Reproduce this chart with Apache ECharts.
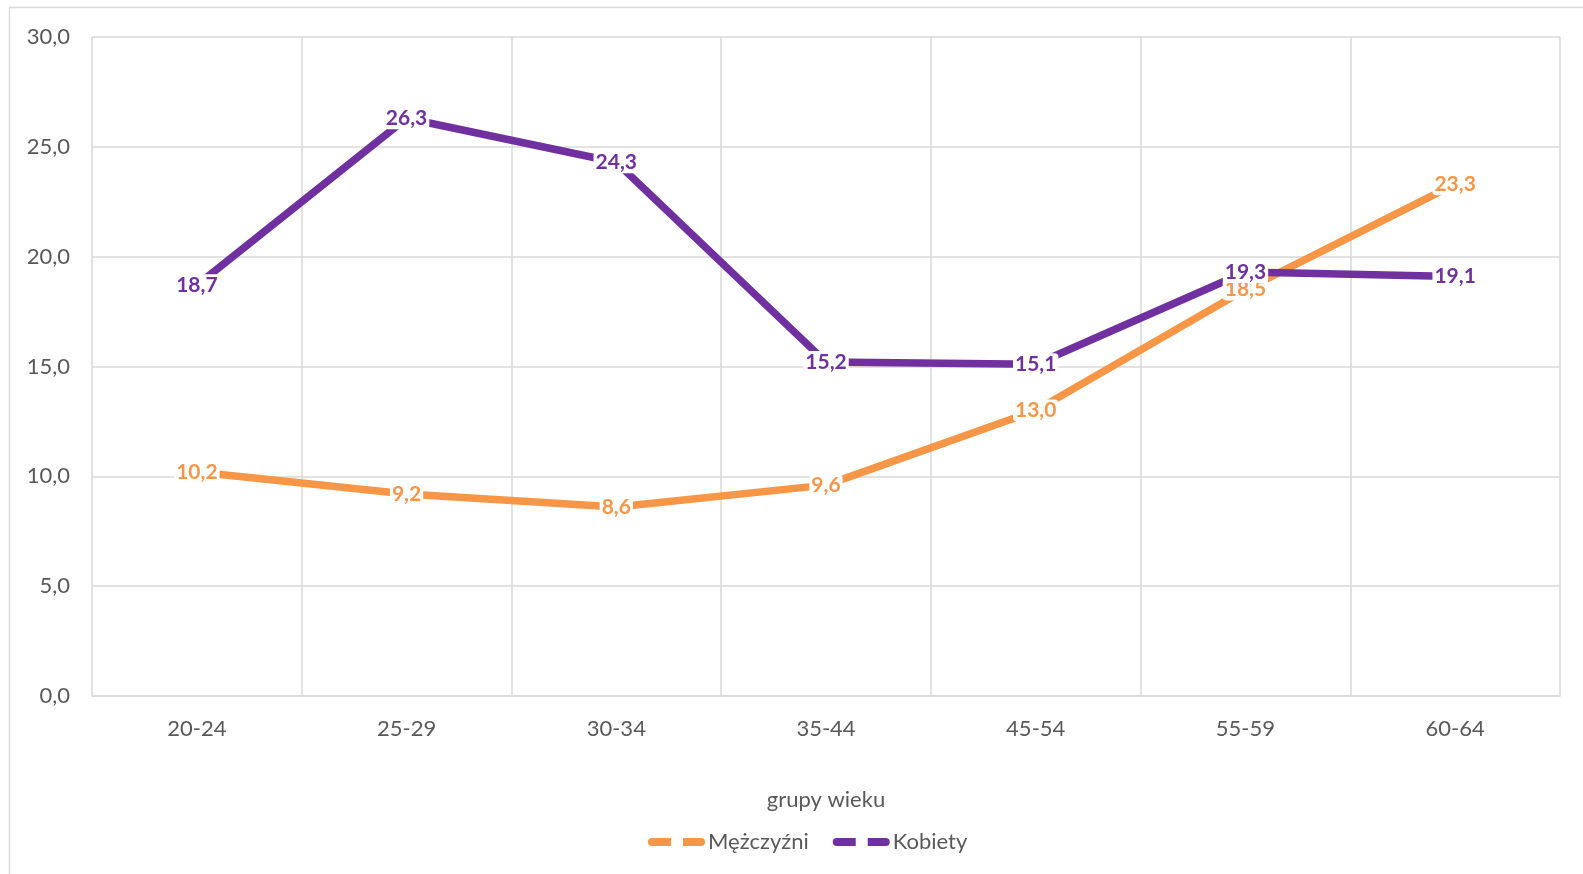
<!DOCTYPE html>
<html>
<head>
<meta charset="utf-8">
<script src="https://cdn.jsdelivr.net/npm/echarts@6/dist/echarts.min.js"></script>
<style>
  html, body { margin: 0; padding: 0; background: #fff; }
  #chart { width: 1583px; height: 874px; }
</style>
</head>
<body>
<div id="chart"></div>
<script>
// grupy wieku
const categories = ['20-24', '25-29', '30-34', '35-44', '45-54', '55-59', '60-64']
// wartości
const menValues = [10.2, 9.2, 8.6, 9.6, 13.0, 18.5, 23.3]
const womenValues = [18.7, 26.3, 24.3, 15.2, 15.1, 19.3, 19.1]
const yTicks = { min: 0, max: 30, interval: 5 }

const FONT = 'Lato'
const GRAY_TEXT = '#595959'
const GRID_COLOR = '#D9D9D9'

const fmt = v => Number(v).toFixed(1).replace('.', ',')

// ikona legendy: dwie kreski
const dashIcon = 'path://M4,0 L23,0 L23,8 L4,8 Q0,8 0,4 Q0,0 4,0 Z M35,0 L53,0 Q57,0 57,4 Q57,8 53,8 L35,8 Z'

const makeSeries = (name, data, color) => ({
  name,
  type: 'line',
  data,
  symbol: 'circle',
  symbolSize: 2,
  showSymbol: true,
  lineStyle: { color, width: 7.5, cap: 'butt', join: 'round' },
  itemStyle: { color },
  emphasis: { disabled: true },
  label: {
    show: true,
    position: 'inside',
    color,
    fontFamily: FONT,
    fontWeight: 'bold',
    fontSize: 21,
    backgroundColor: '#fff',
    borderRadius: 4,
    padding: [1, 2, 0, 2],
    formatter: p => fmt(p.value)
  }
})

const chart = echarts.init(document.getElementById('chart'))

const option = {
  animation: false,
  backgroundColor: '#fff',
  textStyle: { fontFamily: FONT },
  graphic: [
    {
      type: 'rect',
      shape: { x: 9.5, y: 7.5, width: 1620, height: 900 },
      style: { fill: 'none', stroke: GRID_COLOR, lineWidth: 1.5 },
      silent: true,
      z: -10
    }
  ],
  grid: {
    left: 92,
    right: 23,
    top: 37,
    bottom: 178
  },
  legend: {
    top: 826,
    left: 643,
    icon: dashIcon,
    itemWidth: 57,
    itemHeight: 8,
    itemGap: 24,
    textStyle: { color: GRAY_TEXT, fontSize: 22, fontFamily: FONT, padding: [0, 0, 0, -2] },
    data: ['Mężczyźni', 'Kobiety']
  },
  xAxis: {
    type: 'category',
    data: categories,
    boundaryGap: true,
    name: 'grupy wieku',
    nameLocation: 'middle',
    nameGap: 93,
    nameTextStyle: { color: GRAY_TEXT, fontSize: 22, fontFamily: FONT },
    axisLine: { show: true, lineStyle: { color: GRID_COLOR, width: 1.5 } },
    axisTick: { show: false },
    axisLabel: { color: GRAY_TEXT, fontSize: 22, fontFamily: FONT, margin: 22 },
    splitLine: { show: true, lineStyle: { color: GRID_COLOR, width: 1.5 } }
  },
  yAxis: {
    type: 'value',
    min: yTicks.min,
    max: yTicks.max,
    interval: yTicks.interval,
    axisLine: { show: false },
    axisTick: { show: false },
    axisLabel: {
      color: GRAY_TEXT,
      fontSize: 22,
      fontFamily: FONT,
      margin: 22,
      formatter: v => fmt(v)
    },
    splitLine: { show: true, lineStyle: { color: GRID_COLOR, width: 1.5 } }
  },
  series: [
    makeSeries('Mężczyźni', menValues, '#F79646'),
    makeSeries('Kobiety', womenValues, '#7030A0')
  ]
}

chart.setOption(option)
</script>
</body>
</html>
